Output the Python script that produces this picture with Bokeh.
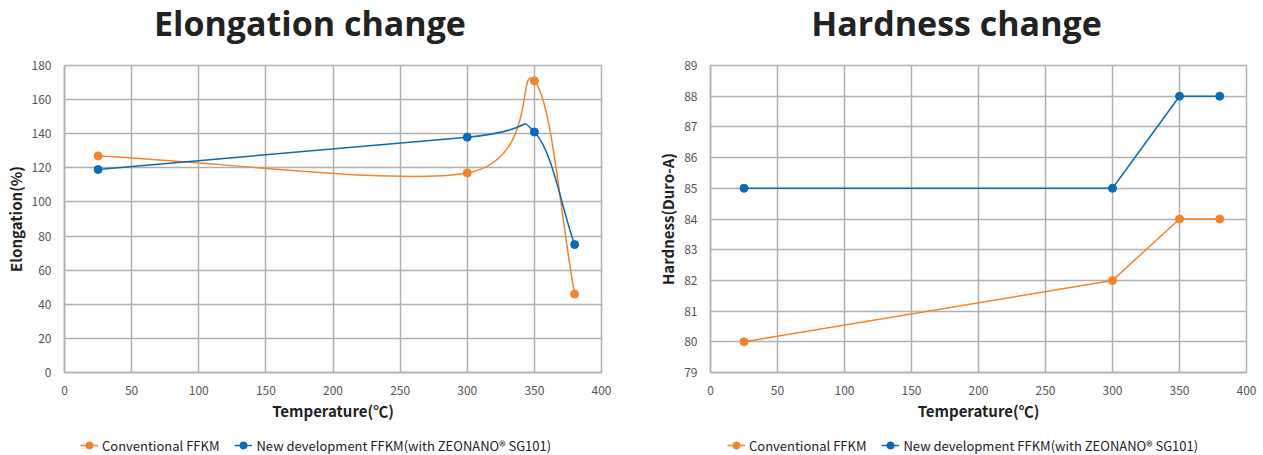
from bokeh.plotting import figure
from bokeh.layouts import row, column
from bokeh.models import Legend, LegendItem, SingleIntervalTicker, Div
from bokeh.embed import file_html
from bokeh.resources import INLINE

# ---- data ----
temps = [25, 300, 350, 380]
elong_conv = [127, 117, 171, 46]
elong_new = [119, 138, 141, 75]
hard_conv = [80, 82, 84, 84]
hard_new = [85, 85, 88, 88]

series_labels = ["Conventional FFKM", "New development FFKM(with ZEONANO® SG101)"]
titles = ["Elongation change", "Hardness change"]
x_label = "Temperature(℃)"
y_labels = ["Elongation(%)", "Hardness(Duro-A)"]

ORANGE = "#f5832a"
BLUE = "#0a6ab4"
GRID = "#b0b0b0"
FONT = "Noto Sans CJK JP"
FRAME_H = 307
TITLE_H = 50
LEGEND_H = 21


def spline_controls(xs, ys):
    """Catmull-Rom style bezier control points for a smooth curve through the data."""
    n = len(xs)
    tx, ty = [], []
    for i in range(n):
        a = max(i - 1, 0)
        b = min(i + 1, n - 1)
        tx.append((xs[b] - xs[a]) / (b - a) if b != a else 0)
        ty.append((ys[b] - ys[a]) / (b - a) if b != a else 0)
    seg = dict(x0=[], y0=[], x1=[], y1=[], cx0=[], cy0=[], cx1=[], cy1=[])
    for i in range(n - 1):
        seg["x0"].append(xs[i]); seg["y0"].append(ys[i])
        seg["x1"].append(xs[i + 1]); seg["y1"].append(ys[i + 1])
        seg["cx0"].append(xs[i] + tx[i] / 3); seg["cy0"].append(ys[i] + ty[i] / 3)
        seg["cx1"].append(xs[i + 1] - tx[i + 1] / 3); seg["cy1"].append(ys[i + 1] - ty[i + 1] / 3)
    return seg


def title_div(text, width, text_w):
    html = ('<div style="font-family:\'Open Sans\';font-weight:700;font-size:34px;'
            'line-height:34px;padding-top:6px;color:#222222;text-align:center;'
            'white-space:nowrap;width:%dpx">%s</div>' % (text_w, text))
    return Div(text=html, width=width, height=TITLE_H, margin=0)


def legend_fig(width, x0, series):
    f = figure(width=width, height=LEGEND_H, x_range=(0, 1), y_range=(0, 1),
               output_backend="svg", toolbar_location=None,
               x_axis_type=None, y_axis_type=None, min_border=0)
    f.outline_line_color = None
    f.grid.visible = False
    items = []
    for ys, col, lab in series:
        ln = f.line(temps, ys, line_color=col, line_width=1.5, visible=False)
        sc = f.scatter(temps, ys, size=8, color=col, visible=False)
        items.append(LegendItem(label=lab, renderers=[ln, sc]))
    lg = Legend(items=items, orientation="horizontal", location=(x0, 0),
                border_line_color=None, background_fill_alpha=0,
                label_text_font=FONT, label_text_font_size="13px", label_text_color="#222222",
                glyph_width=18, glyph_height=20, label_height=20, spacing=15,
                padding=0, margin=0, label_standoff=4, click_policy="none")
    f.add_layout(lg, "center")
    return f


def make_fig(ylab, yr, yint, frame_w, bl, br):
    p = figure(frame_width=frame_w, frame_height=FRAME_H, x_range=(0, 400), y_range=yr,
               output_backend="svg", toolbar_location=None,
               min_border_left=bl, min_border_right=br,
               min_border_top=65 - TITLE_H,
               min_border_bottom=455 - 65 - FRAME_H - LEGEND_H)
    p.xaxis.ticker = SingleIntervalTicker(interval=50)
    p.yaxis.ticker = SingleIntervalTicker(interval=yint)
    for ax in (p.xaxis, p.yaxis):
        ax.axis_line_color = GRID
        ax.axis_line_width = 1.5
        ax.major_tick_line_color = None
        ax.minor_tick_line_color = None
        ax.major_label_text_font = FONT
        ax.major_label_text_font_size = "12px"
        ax.major_label_text_color = "#555555"
        ax.major_label_standoff = 7
        ax.axis_label_text_font = FONT
        ax.axis_label_text_font_style = "bold"
        ax.axis_label_text_font_size = "15px"
        ax.axis_label_text_color = "#222222"
    p.xaxis.axis_label = x_label
    p.yaxis.axis_label = ylab
    p.xaxis.axis_label_standoff = 2
    p.yaxis.axis_label_standoff = 3
    p.grid.grid_line_color = GRID
    p.grid.grid_line_width = 1.5
    p.outline_line_color = GRID
    p.outline_line_width = 1.5
    return p


# ---- left: elongation ----
W1, BL1, FW1 = 650, 64, 537
p1 = make_fig(y_labels[0], (0, 180), 20, FW1, BL1, W1 - BL1 - FW1)
for ys, col in ((elong_conv, ORANGE), (elong_new, BLUE)):
    seg = spline_controls(temps, ys)
    p1.bezier(line_color=col, line_width=1.5, **seg)
    p1.scatter(temps, ys, size=8, color=col)

# ---- right: hardness ----
W2, BL2, FW2 = 613, 60, 536
p2 = make_fig(y_labels[1], (79, 89), 1, FW2, BL2, W2 - BL2 - FW2)
for ys, col in ((hard_conv, ORANGE), (hard_new, BLUE)):
    p2.line(temps, ys, line_color=col, line_width=1.5)
    p2.scatter(temps, ys, size=8, color=col)

leg1 = legend_fig(W1, 16, ((elong_conv, ORANGE, series_labels[0]), (elong_new, BLUE, series_labels[1])))
leg2 = legend_fig(W2, 17, ((hard_conv, ORANGE, series_labels[0]), (hard_new, BLUE, series_labels[1])))

left = column(title_div(titles[0], W1, 620), p1, leg1)
right = column(title_div(titles[1], W2, 613), p2, leg2)
layout = row(left, right)
open("out.html", "w").write(file_html(layout, INLINE))
